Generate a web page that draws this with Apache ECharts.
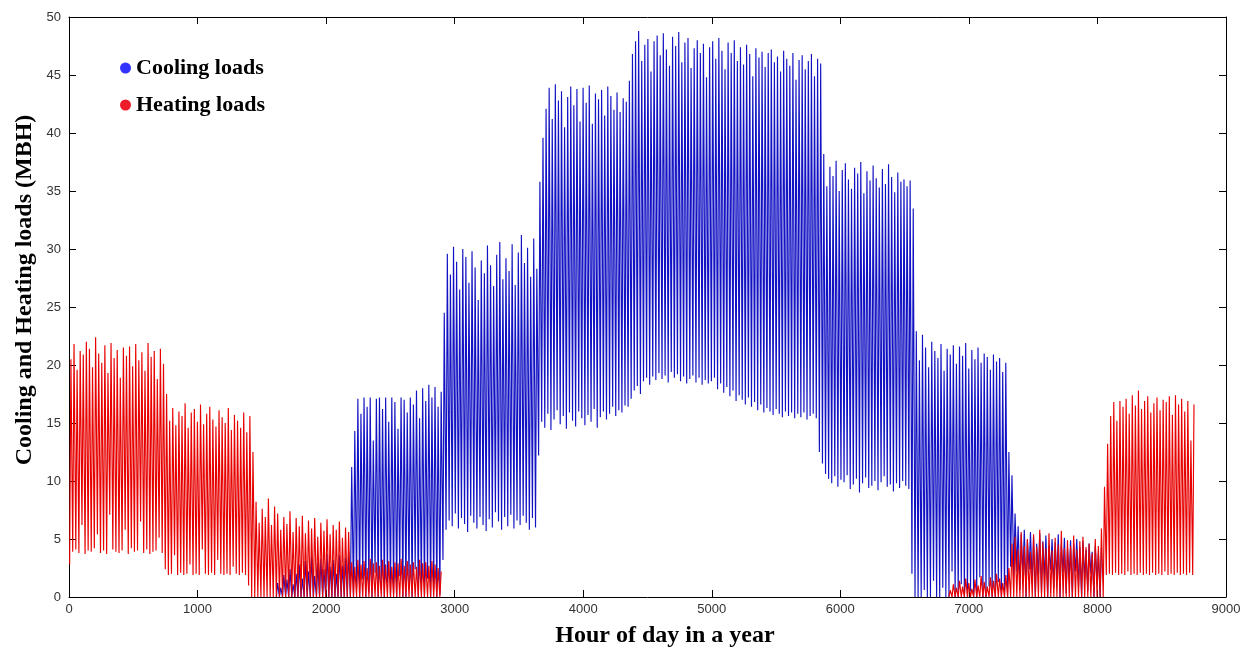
<!DOCTYPE html>
<html>
<head>
<meta charset="utf-8">
<script src="https://cdn.jsdelivr.net/npm/echarts@6/dist/echarts.min.js"></script>
<style>
html, body { margin: 0; padding: 0; background: #fff; }
#chart { width: 1254px; height: 653px; }
</style>
</head>
<body>
<div id="chart"></div>
<script>
// axis ticks
var xTicks = [0, 1000, 2000, 3000, 4000, 5000, 6000, 7000, 8000, 9000];
var yTicks = [0, 5, 10, 15, 20, 25, 30, 35, 40, 45, 50];

// daily peak / trough values (MBH), one value per day
// cooling loads, days 67..334
var coolStartDay = 67;
var coolPeakA = [1.2, 0.8, 1.9, 1.5, 2.4, 1.1, 2.0, 2.8, 1.6, 3.1, 2.2, 3.5, 1.8, 2.9,
	3.3, 2.4, 3.7, 2.6, 3.2, 2.0, 3.6, 2.7, 3.4, 3.9];
var coolLowA = [0, 0, 0, 0, 0, 0, 0, 0, 0, 0, 0, 0, 0, 0, 0, 0, 0, 0, 0, 0, 0, 0, 0, 0];
var coolPeakB = [11.2, 14.3, 17.1, 15.8, 17.2, 16.4, 17.2, 13.5, 17.1, 17.2, 16.2, 17.2, 15.1, 17.2,
	16.8, 14.5, 17.2, 17.0, 15.9, 17.2, 16.6, 17.8, 15.4, 18.0, 16.9, 18.3, 17.2, 18.1, 16.4, 17.7];
var coolLowB = [0, 0, 0.8, 0, 1.5, 0, 0.4, 0, 2.1, 0, 0.6, 0, 1.2, 0,
	0.3, 0, 1.8, 0, 0, 0.9, 0, 2.4, 0, 0.5, 0, 1.6, 0, 0.7, 0, 0.2];
var coolPeakC = [24.5, 29.6, 27.8, 30.2, 28.9, 26.5, 30.0, 29.3, 27.1, 29.8, 28.4, 25.6, 29.0, 27.9,
	30.3, 28.6, 26.8, 29.5, 30.6, 27.4, 29.2, 28.1, 30.4, 26.9, 29.7, 31.2, 28.8, 30.1, 27.6, 30.9, 28.3];
var coolLowC = [3.2, 5.8, 6.6, 6.1, 7.2, 5.9, 6.8, 6.3, 5.6, 7.0, 6.4, 5.9, 6.9, 6.2,
	5.7, 6.7, 6.0, 7.3, 6.5, 5.8, 6.9, 6.1, 7.1, 5.9, 6.6, 6.2, 7.0, 6.4, 5.8, 6.8, 6.0];
var coolPeakD = [35.8, 39.6, 42.1, 43.9, 41.2, 44.2, 42.8, 43.6, 40.5, 43.1, 44.0, 42.4, 43.8, 41.0,
	43.9, 42.6, 44.1, 40.8, 43.4, 42.9, 43.7, 41.5, 44.0, 43.2, 42.0, 43.5, 41.8, 43.0, 42.7];
var coolLowD = [12.2, 15.1, 14.6, 15.8, 14.4, 15.3, 16.1, 14.9, 15.6, 14.5, 15.9, 15.2, 14.7, 16.0,
	15.4, 14.8, 15.7, 15.1, 16.2, 14.6, 15.5, 16.0, 15.3, 15.8, 16.4, 15.6, 16.1, 15.9, 16.5];
var coolPeakE = [44.5, 46.8, 47.9, 48.8, 46.2, 47.6, 48.1, 45.3, 47.9, 48.4, 46.7, 48.6, 47.2, 45.8,
	48.3, 47.5, 48.7, 46.1, 47.8, 48.2, 45.6, 47.3, 48.0, 46.9, 47.7, 44.8, 47.4];
var coolLowE = [16.4, 17.1, 17.8, 18.2, 17.5, 18.6, 18.9, 18.3, 19.0, 18.7, 19.3, 18.8, 19.1, 18.5,
	19.4, 18.9, 19.2, 18.6, 19.0, 18.4, 18.8, 19.1, 18.5, 18.9, 18.3, 18.7, 18.4];
var coolPeakF = [47.9, 46.4, 48.2, 47.1, 45.5, 47.8, 46.9, 48.0, 46.2, 47.4, 45.9, 47.6, 46.8, 44.9,
	47.3, 46.5, 47.0, 45.7, 46.9, 47.2, 46.1, 46.6, 45.3, 47.1, 46.4, 45.8, 46.9, 44.6,
	46.3, 46.7, 45.5, 46.2, 46.8, 44.9, 46.4, 46.0];
var coolLowF = [18.6, 18.9, 17.9, 18.4, 17.6, 18.1, 17.3, 17.8, 16.9, 17.4, 17.0, 16.6, 17.2, 16.4,
	16.8, 16.1, 16.6, 15.9, 16.3, 16.0, 15.7, 16.2, 15.8, 15.5, 16.0, 15.6, 15.9, 15.4,
	15.8, 15.5, 15.9, 15.3, 15.6, 15.8, 15.4, 12.5];
var coolPeakG = [38.2, 35.4, 37.1, 36.3, 37.6, 35.0, 36.8, 37.4, 36.0, 35.2, 37.0, 36.5, 37.5, 34.8,
	36.7, 35.9, 37.2, 36.1, 35.3, 36.9, 35.6, 37.3, 36.2, 34.9, 36.6, 35.8, 36.0, 35.4, 35.9, 33.5];
var coolLowG = [11.5, 10.6, 10.2, 9.8, 10.4, 9.5, 10.1, 9.9, 10.5, 9.3, 9.7, 10.2, 9.0, 9.8,
	10.3, 9.4, 9.6, 10.0, 9.2, 9.9, 10.4, 9.5, 9.7, 9.1, 9.8, 9.4, 10.0, 9.6, 9.3, 2.0];
var coolPeakH = [22.9, 20.4, 22.6, 21.5, 19.8, 22.0, 21.2, 20.6, 21.8, 19.5, 21.4, 20.9, 21.7, 20.1,
	21.6, 20.8, 21.9, 19.7, 21.3, 20.5, 21.5, 20.2, 21.0, 20.7, 19.6, 20.9, 20.3, 20.6, 19.4, 20.2, 12.5];
var coolLowH = [0, 0, 0, 0.6, 0, 0, 1.4, 0, 0, 0.8, 0, 0, 2.2, 0,
	0, 1.1, 0, 0, 0.5, 0, 0, 1.7, 0, 0, 0.9, 0, 0, 1.3, 0, 0, 0];
var coolPeakI = [10.5, 7.2, 6.1, 5.4, 5.8, 4.9, 5.6, 5.2, 4.6, 5.5, 4.8, 5.3, 4.4, 5.0,
	4.7, 5.4, 4.5, 5.1, 4.2, 4.9, 4.6, 5.0, 4.3, 4.8, 4.1, 4.6, 3.9, 4.4, 3.8, 4.2];
var coolLowI = [2.6, 1.8, 2.2, 0.6, 1.9, 0, 2.4, 1.1, 0, 2.0, 0.4, 1.7, 0, 2.3,
	0.8, 1.5, 0, 2.1, 0.3, 1.8, 0, 2.2, 0.9, 0, 1.6, 0.5, 2.0, 0, 1.2, 0];

// heating loads, days 0..120
var heatEarlyStartDay = 0;
var heatPeakA = [20.5, 21.8, 19.6, 21.2, 20.9, 22.0, 21.4, 19.8, 22.4, 21.0, 20.2, 21.7, 19.3, 21.9,
	20.6, 21.3, 18.9, 21.5, 20.8, 21.6, 19.9, 21.8, 20.4, 21.1, 19.5, 21.9, 20.7, 21.2, 18.8, 21.4, 20.1];
var heatLowA = [2.8, 3.9, 4.1, 3.8, 6.2, 3.7, 4.0, 3.9, 4.2, 5.4, 3.8, 4.0, 3.7, 7.1,
	4.1, 3.9, 3.8, 4.0, 5.8, 3.7, 4.2, 3.9, 4.0, 6.5, 3.8, 4.1, 3.7, 3.9, 4.0, 5.1, 3.8];
var heatPeakB = [17.5, 15.2, 16.3, 14.8, 16.0, 15.6, 16.7, 14.6, 15.9, 16.2, 15.1, 16.6, 14.9, 15.8,
	16.4, 15.3, 14.7, 16.1, 15.5, 15.0, 16.3, 14.4, 15.7, 15.2, 14.6, 15.9, 14.2, 15.6, 12.5];
var heatLowB = [2.4, 1.9, 2.0, 3.6, 1.9, 2.1, 1.9, 2.0, 2.8, 1.9, 2.0, 1.9, 4.1, 2.0,
	1.9, 2.1, 1.9, 3.2, 2.0, 1.9, 2.0, 1.9, 2.6, 2.0, 1.9, 2.1, 1.9, 1.0, 0];
var heatPeakC = [8.2, 6.4, 7.6, 6.9, 8.5, 6.2, 7.8, 7.2, 5.8, 6.9, 6.3, 7.4, 5.6, 6.8,
	6.1, 7.0, 5.5, 6.6, 5.9, 6.8, 5.2, 6.4, 5.7, 6.7, 5.4, 6.2, 5.8, 6.5, 5.1, 6.0, 5.6];
var heatLowC = [0, 0, 0, 0, 0, 0, 0, 0, 0, 0, 0, 0, 0, 0, 0, 0, 0, 0, 0, 0, 0, 0, 0, 0, 0, 0, 0, 0, 0, 0, 0];
var heatPeakD = [3.0, 2.6, 3.2, 2.8, 3.1, 2.5, 3.3, 2.9, 3.0, 2.7, 3.2, 2.8, 3.1, 2.6,
	3.0, 2.9, 3.3, 2.7, 3.1, 2.8, 3.0, 2.6, 3.2, 2.9, 3.0, 2.7, 3.1, 2.8, 2.5, 2.2];
var heatLowD = [0, 0, 0, 0, 0, 0, 0, 0, 0, 0, 0, 0, 0, 0, 0, 0, 0, 0, 0, 0, 0, 0, 0, 0, 0, 0, 0, 0, 0, 0];

// heating loads, days 285..364
var heatLateStartDay = 285;
var heatPeakE = [0.6, 1.1, 0.8, 1.4, 0.9, 1.6, 1.2, 0.7, 1.5, 1.0, 1.8, 1.3, 0.9, 1.7, 1.4, 2.0, 1.6, 1.2, 1.9, 2.5];
var heatLowE = [0, 0, 0, 0, 0, 0, 0, 0, 0, 0, 0, 0, 0, 0, 0, 0, 0, 0, 0, 0];
var heatPeakF = [4.6, 5.2, 4.1, 5.6, 4.4, 5.0, 3.9, 5.4, 4.3, 5.8, 4.7, 4.2, 5.5, 4.0,
	5.1, 4.5, 5.7, 4.2, 4.9, 4.4, 5.3, 4.1, 4.8, 5.2, 4.3, 4.6, 3.8, 5.0, 4.4, 5.9];
var heatLowF = [0, 0, 0, 0, 0, 0, 0, 0, 0, 0, 0, 0, 0, 0, 0, 0, 0, 0, 0, 0, 0, 0, 0, 0, 0, 0, 0, 0, 0, 0];
var heatPeakG = [9.5, 13.2, 15.6, 16.8, 15.2, 16.9, 16.4, 17.1, 15.8, 17.4, 16.5, 17.8, 16.2, 16.9,
	17.3, 15.9, 16.7, 17.2, 16.1, 17.0, 16.8, 17.3, 15.7, 17.4, 16.6, 17.1, 16.0, 16.9, 13.5, 16.6];
var heatLowG = [0, 1.9, 2.0, 1.9, 2.1, 1.9, 2.0, 1.9, 2.2, 1.9, 2.0, 1.9, 2.1, 1.9,
	2.0, 1.9, 2.1, 1.9, 2.0, 1.9, 2.2, 1.9, 2.0, 1.9, 2.1, 1.9, 2.0, 1.9, 2.1, 1.9];

var coolPeak = [].concat(coolPeakA, coolPeakB, coolPeakC, coolPeakD, coolPeakE, coolPeakF, coolPeakG, coolPeakH, coolPeakI);
var coolLow = [].concat(coolLowA, coolLowB, coolLowC, coolLowD, coolLowE, coolLowF, coolLowG, coolLowH, coolLowI);
var heatEarlyPeak = [].concat(heatPeakA, heatPeakB, heatPeakC, heatPeakD);
var heatEarlyLow = [].concat(heatLowA, heatLowB, heatLowC, heatLowD);
var heatLatePeak = [].concat(heatPeakE, heatPeakF, heatPeakG);
var heatLateLow = [].concat(heatLowE, heatLowF, heatLowG);

// each day: night trough then afternoon peak
function dailyTrace(startDay, lows, peaks) {
	var pts = [];
	for (var i = 0; i < peaks.length; i++) {
		var h = (startDay + i) * 24;
		pts.push([h + 5, lows[i]]);
		pts.push([h + 15, peaks[i]]);
	}
	return pts;
}

var coolData = dailyTrace(coolStartDay, coolLow, coolPeak);
var heatData = dailyTrace(heatEarlyStartDay, heatEarlyLow, heatEarlyPeak)
	.concat([[null, null]], dailyTrace(heatLateStartDay, heatLateLow, heatLatePeak));

var chart = echarts.init(document.getElementById('chart'));
var tickFont = { fontFamily: 'Liberation Sans', fontSize: 13, color: '#333', formatter: function (v) { return String(v); } };
var frameLine = { show: true, onZero: false, lineStyle: { color: '#000', width: 1 } };
var innerTick = { show: true, inside: true, length: 7, lineStyle: { color: '#000', width: 1 } };

chart.setOption({
	animation: false,
	backgroundColor: '#fff',
	grid: { left: 69, right: 28, top: 17, bottom: 56 },
	legend: {
		data: ['Cooling loads', 'Heating loads'],
		orient: 'vertical',
		left: 115,
		top: 52,
		icon: 'circle',
		itemWidth: 11,
		itemHeight: 11,
		itemGap: 15,
		textStyle: { fontFamily: 'Liberation Serif', fontWeight: 'bold', fontSize: 22, color: '#000', padding: [0, 0, 0, 0] }
	},
	xAxis: [{
		type: 'value', min: xTicks[0], max: xTicks[xTicks.length - 1], interval: 1000, position: 'bottom',
		axisLine: frameLine, axisTick: innerTick, splitLine: { show: false },
		axisLabel: Object.assign({ margin: 6 }, tickFont)
	}, {
		type: 'value', min: xTicks[0], max: xTicks[xTicks.length - 1], interval: 1000, position: 'top',
		axisLine: frameLine, axisTick: innerTick, splitLine: { show: false }, axisLabel: { show: false }
	}],
	yAxis: [{
		type: 'value', min: yTicks[0], max: yTicks[yTicks.length - 1], interval: 5, position: 'left',
		axisLine: frameLine, axisTick: innerTick, splitLine: { show: false },
		axisLabel: Object.assign({ margin: 8 }, tickFont)
	}, {
		type: 'value', min: yTicks[0], max: yTicks[yTicks.length - 1], interval: 5, position: 'right',
		axisLine: frameLine, axisTick: innerTick, splitLine: { show: false }, axisLabel: { show: false }
	}],
	graphic: [{
		type: 'text', x: 665, y: 636,
		style: { text: 'Hour of day in a year', font: 'bold 24px "Liberation Serif"', fill: '#000', textAlign: 'center', textVerticalAlign: 'middle' }
	}, {
		type: 'text', x: 25, y: 290, rotation: Math.PI / 2,
		style: { text: 'Cooling and Heating loads (MBH)', font: 'bold 24px "Liberation Serif"', fill: '#000', textAlign: 'center', textVerticalAlign: 'middle' }
	}],
	series: [{
		name: 'Cooling loads',
		type: 'line',
		data: coolData,
		showSymbol: false,
		color: '#3333ff',
		lineStyle: { width: 1.15, color: '#1212c4' },
		connectNulls: false
	}, {
		name: 'Heating loads',
		type: 'line',
		data: heatData,
		showSymbol: false,
		color: '#ee1c2a',
		lineStyle: { width: 1.15, color: '#e80000' },
		connectNulls: false
	}]
});
</script>
</body>
</html>
